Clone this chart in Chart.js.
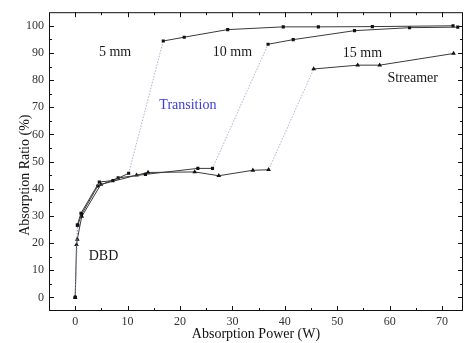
<!DOCTYPE html>
<html>
<head>
<meta charset="utf-8">
<script src="https://cdn.jsdelivr.net/npm/chart.js@4/dist/chart.umd.min.js"></script>
<style>
html, body { margin: 0; padding: 0; background: #fff; }
canvas { display: block; }
</style>
</head>
<body>
<canvas id="grafica-absorcion" width="467" height="343"></canvas>
<script>
(function() {
// -------------------------------------------------------------------------------------------------------------------------
// DATA FOR EACH GAP
// -------------------------------------------------------------------------------------------------------------------------
var power5 = [0, 0.4, 1.1, 4.6, 7.2, 10.2, 16.8, 20.8, 29.1, 39.7, 46.4, 56.7, 72.1];
var ratio5 = [0, 26.6, 31, 42.5, 43, 45.7, 94.4, 95.8, 98.6, 99.6, 99.6, 99.7, 100];

var power10 = [0, 0.5, 1.2, 4.3, 8.2, 13.4, 23.4, 26.2, 36.8, 41.6, 53.3, 63.8, 73];
var ratio10 = [0, 26.6, 30.5, 41, 44, 45.3, 47.5, 47.5, 93.2, 94.9, 98.2, 99.3, 99.5];

var power15 = [0, 0.25, 0.4, 1.25, 4.9, 11.7, 13.9, 22.8, 27.4, 33.9, 36.9, 45.5, 53.9, 58.1, 72.2];
var ratio15 = [0, 19.4, 21.4, 29.8, 41.6, 45, 46, 46.2, 44.8, 46.8, 47, 84.1, 85.5, 85.5, 89.8];

var xTicks = [0, 10, 20, 30, 40, 50, 60, 70];
var yTicks = [0, 10, 20, 30, 40, 50, 60, 70, 80, 90, 100];

// text written inside the plot, placed in data units
var notes = [
    { text: '5 mm', x: 7.6, y: 90.1, color: '#1a1a1a' },
    { text: '10 mm', x: 30, y: 90.1, color: '#1a1a1a' },
    { text: '15 mm', x: 54.8, y: 89.9, color: '#1a1a1a' },
    { text: 'Transition', x: 21.5, y: 70.7, color: '#3b3be0' },
    { text: 'Streamer', x: 64.4, y: 80.6, color: '#1a1a1a' },
    { text: 'DBD', x: 5.4, y: 15.1, color: '#1a1a1a' }
];

var yTitle = 'Absorption Ratio (%)';

function toPoints(xs, ys) {
    return xs.map(function(v, i) { return { x: v, y: ys[i] }; });
}

var serif = '"Liberation Serif", "DejaVu Serif", serif';

// the jump between discharge regimes is drawn as a faint dotted line
function isJump(c) { return c.p1.parsed.y - c.p0.parsed.y > 20; }
var jumpSegment = {
    borderColor: function(c) { return isJump(c) ? 'rgba(125,135,180,0.8)' : undefined; },
    borderDash: function(c) { return isJump(c) ? [1.5, 1.5] : undefined; },
    borderWidth: function(c) { return isJump(c) ? 0.8 : undefined; }
};

function serie(label, pts, shape, size) {
    return {
        label: label,
        data: pts,
        showLine: true,
        borderColor: '#3a3a3a',
        borderWidth: 1,
        backgroundColor: '#111',
        pointStyle: shape,
        pointRadius: size,
        pointBorderWidth: 0,
        pointBackgroundColor: '#111',
        segment: jumpSegment,
        tension: 0
    };
}

// -------------------------------------------------------------------------------------------------------------------------
// FRAME, INWARD TICKS, Y TITLE AND NOTES
// -------------------------------------------------------------------------------------------------------------------------
var framePlugin = {
    id: 'frame',
    afterDatasetsDraw: function(chart) {
        var ctx = chart.ctx, a = chart.chartArea;
        var xs = chart.scales.x, ys = chart.scales.y;
        ctx.save();
        ctx.strokeStyle = '#111';
        ctx.lineWidth = 1;
        ctx.strokeRect(a.left + 0.5, a.top + 0.5, a.right - a.left - 1, a.bottom - a.top - 1);
        ctx.beginPath();
        for (var v = 0; v <= 70; v += 5) {
            var px = Math.round(xs.getPixelForValue(v)) + 0.5;
            var len = (v % 10 === 0) ? 5 : 3;
            ctx.moveTo(px, a.bottom); ctx.lineTo(px, a.bottom - len);
            ctx.moveTo(px, a.top); ctx.lineTo(px, a.top + len);
        }
        for (var w = 0; w <= 100; w += 5) {
            var py = Math.round(ys.getPixelForValue(w)) + 0.5;
            var l2 = (w % 10 === 0) ? 5 : 3;
            ctx.moveTo(a.left, py); ctx.lineTo(a.left + l2, py);
            ctx.moveTo(a.right, py); ctx.lineTo(a.right - l2, py);
        }
        ctx.stroke();

        ctx.font = '14px ' + serif;
        ctx.textAlign = 'center';
        ctx.textBaseline = 'middle';
        notes.forEach(function(n) {
            ctx.fillStyle = n.color;
            ctx.fillText(n.text, xs.getPixelForValue(n.x), ys.getPixelForValue(n.y));
        });

        // y title sits a bit below the middle of the axis
        ctx.fillStyle = '#111';
        ctx.translate(25, ys.getPixelForValue(45));
        ctx.rotate(-Math.PI / 2);
        ctx.fillText(yTitle, 0, 0);
        ctx.restore();
    }
};

// -------------------------------------------------------------------------------------------------------------------------
// CREATE THE GRAPH
// -------------------------------------------------------------------------------------------------------------------------
var ctx = document.getElementById('grafica-absorcion').getContext('2d');
var grafica = new Chart(ctx, {
    type: 'scatter',
    data: {
        datasets: [
            serie('5 mm', toPoints(power5, ratio5), 'rect', 2.2),
            serie('10 mm', toPoints(power10, ratio10), 'rect', 2.2),
            serie('15 mm', toPoints(power15, ratio15), 'triangle', 2.7)
        ]
    },
    options: {
        responsive: false,
        devicePixelRatio: 1,
        animation: false,
        layout: { padding: { top: 12, right: 1, left: 0, bottom: 0 } },
        plugins: {
            legend: { display: false },
            tooltip: { enabled: false }
        },
        scales: {
            x: {
                type: 'linear',
                min: -5,
                max: 74,
                grid: { display: false, drawTicks: false },
                border: { display: false },
                afterBuildTicks: function(s) { s.ticks = xTicks.map(function(v) { return { value: v }; }); },
                afterFit: function(s) { s.height = 32; },
                ticks: { color: '#333', padding: 4, maxRotation: 0, font: { family: serif, size: 12 } },
                title: { display: true, text: 'Absorption Power (W)', color: '#111', padding: 0, font: { family: serif, size: 14 } }
            },
            y: {
                type: 'linear',
                min: -5,
                max: 105,
                grid: { display: false, drawTicks: false },
                border: { display: false },
                afterBuildTicks: function(s) { s.ticks = yTicks.map(function(v) { return { value: v }; }); },
                afterFit: function(s) { s.width = 49; },
                ticks: { color: '#333', padding: 5, font: { family: serif, size: 12 } },
                title: { display: false }
            }
        }
    },
    plugins: [framePlugin]
});
})();
</script>
</body>
</html>
